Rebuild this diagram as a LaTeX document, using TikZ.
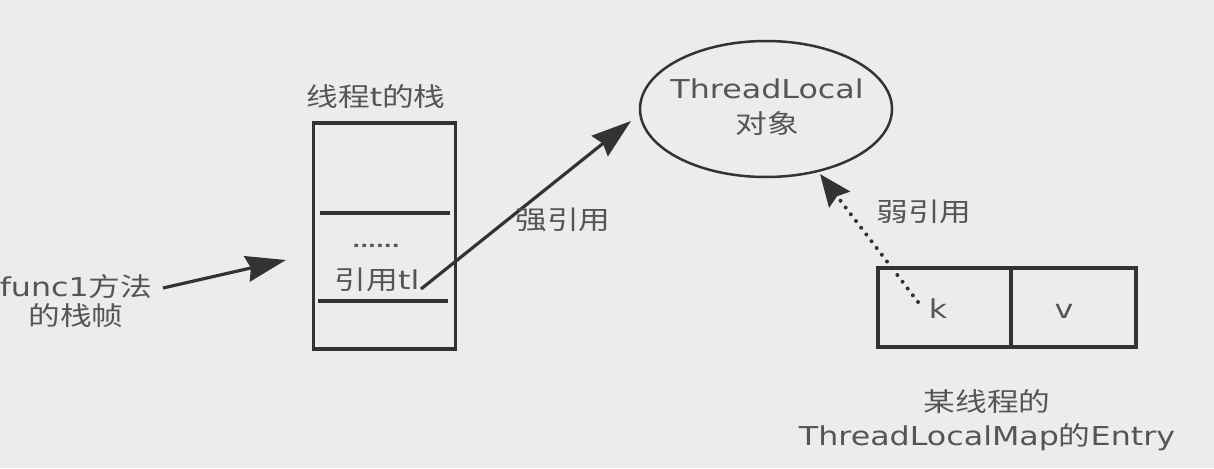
\documentclass[tikz,border=0pt]{standalone}
\usepackage{fontspec}
\newfontfamily\cjk[FakeStretch=1.22]{Noto Sans CJK SC}
\newfontfamily\lat[FakeStretch=1.22]{DejaVu Sans}
\usetikzlibrary{arrows.meta,shapes.geometric}
\definecolor{bg}{HTML}{ECECEC}
\definecolor{textgray}{HTML}{555555}
\definecolor{linegray}{HTML}{333333}
\newcommand\la[1]{{\lat #1}}
\begin{document}
\begin{tikzpicture}[x=1pt,y=-1pt,
  txt/.style={text=textgray, inner sep=0pt, align=center, font={\fontsize{26}{34}\cjk}},
  frame/.style={draw=linegray, line width=3.5pt},
  arr/.style={draw=linegray, line width=3.2pt, -{Stealth[length=40pt,width=26pt,inset=4pt]}},
  weakarr/.style={draw=linegray, line width=4pt, line cap=round, dash pattern=on 0pt off 8.5pt,
     -{Stealth[length=32pt,width=26pt,inset=4pt]}},
]
\useasboundingbox (0,0) rectangle (1214,468);
\fill[bg] (0,0) rectangle (1214,468);

% stack of thread t
\node[frame, minimum width=142pt, minimum height=226pt, anchor=north west, inner sep=0pt] (stack) at (311.5,121) {};
\draw[frame] (320,213) -- (450,213);
\draw[frame] (318,301) -- (448,301);
\node[txt] (stacktitle) at (376,97) {线程\la{t}的栈};
\node[txt, anchor=base, font={\fontsize{17}{20}\lat\bfseries}] (dots) at (376,247) {......};
\node[txt] (ref) at (377,280) {引用\la{tl}};

% ThreadLocal object
\node[ellipse, draw=linegray, line width=2.5pt, minimum width=252pt, minimum height=136pt, inner sep=0pt] (tlobj) at (766,109) {};
\node[txt, font={\fontsize{26}{35}\cjk}] (tltext) at (767,107) {\la{ThreadLocal}\\对象};

% func1 frame label
\node[txt, font={\fontsize{26}{28.5}\cjk}] (func) at (76,301) {\la{func1}方法\\的栈帧};
\coordinate (fstart) at (163,288);
\coordinate (fend) at (286,260);
\draw[arr] (fstart) -- (fend);

% strong reference
\coordinate (sstart) at (421,289);
\coordinate (send) at (631,121);
\draw[arr] (sstart) -- (send);
\node[txt] (strong) at (563,220) {强引用};

% entry
\node[frame, minimum width=133pt, minimum height=79pt, anchor=north west, inner sep=0pt] (kcell) at (876,266) {};
\node[frame, minimum width=125pt, minimum height=79pt, anchor=north west, inner sep=0pt] (vcell) at (1009,266) {};
\node[txt, anchor=base, font={\fontsize{26}{30}\lat}] (klabel) at (938,318) {k};
\node[txt, anchor=base, font={\fontsize{26}{30}\lat}] (vlabel) at (1064,318) {v};

% weak reference
\coordinate (wstart) at (918,302);
\coordinate (wend) at (820,174);
\draw[weakarr] (wstart) -- (wend);
\node[txt] (weak) at (924,212) {弱引用};

% caption
\node[txt] (caption) at (987,420) {某线程的\\\la{ThreadLocalMap}的\la{Entry}};
\end{tikzpicture}
\end{document}
